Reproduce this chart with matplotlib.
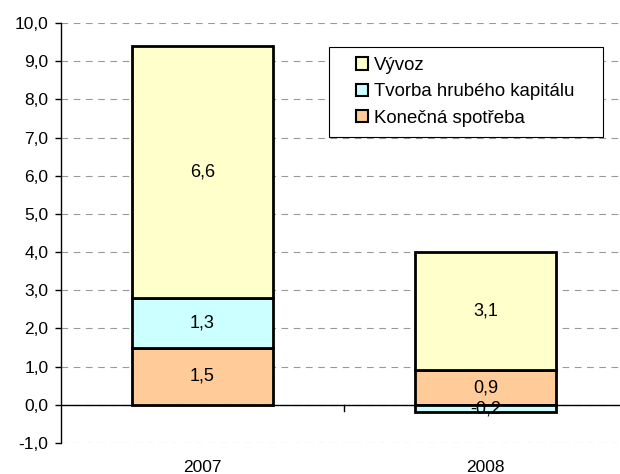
import numpy as np
import matplotlib
matplotlib.use("Agg")
import matplotlib.pyplot as plt
from matplotlib.patches import Patch, Rectangle

plt.rcParams["font.family"] = ["Liberation Sans", "DejaVu Sans"]

years = ["2007", "2008"]
series_names = ["Konečná spotřeba", "Tvorba hrubého kapitálu", "Vývoz"]
konecna = [1.5, 0.9]
tvorba = [1.3, -0.2]
vyvoz = [6.6, 3.1]
colors = ["#FFCC99", "#CCFFFF", "#FFFFCC"]
yticks = np.arange(-1, 10.5, 1)

W, H = 620, 474
fig = plt.figure(figsize=(W / 100, H / 100), dpi=100)
# plot area in pixels: y-axis at x=61, -1 at y=443, 10 at y=23
left = 61 / W
ax = fig.add_axes([left, 31 / H, 1 - left, 420 / H])
ax_w = W - 61

x = np.arange(len(years))
pos_bottom = np.zeros(len(years))
neg_bottom = np.zeros(len(years))
for name, vals, c in zip(series_names, [konecna, tvorba, vyvoz], colors):
    vals = np.array(vals)
    bottoms = np.where(vals >= 0, pos_bottom, neg_bottom)
    ax.bar(x, vals, width=0.5, bottom=bottoms, color=c, edgecolor="black",
           linewidth=2, zorder=3)
    for xi, b, v in zip(x, bottoms, vals):
        ax.text(xi, b + v / 2, f"{v:.1f}".replace(".", ","), ha="center",
                va="center", fontsize=13, zorder=4)
    pos_bottom = pos_bottom + np.where(vals >= 0, vals, 0)
    neg_bottom = neg_bottom + np.where(vals < 0, vals, 0)

ax.set_ylim(-1, 10)
# one category is 283 px wide; the axis runs past the right edge
ax.set_xlim(-0.5, -0.5 + ax_w / 283)
ax.set_yticks(yticks)
ax.set_yticklabels([f"{v:.1f}".replace(".", ",") for v in yticks], fontsize=12.5)
ax.yaxis.grid(True, linestyle=(0, (6, 5)), color="#999999", linewidth=0.8, zorder=0)
ax.tick_params(axis="y", direction="out", length=4, width=1, pad=5)

for s in ["top", "right", "bottom"]:
    ax.spines[s].set_visible(False)
ax.spines["left"].set_linewidth(1)
ax.axhline(0, color="black", linewidth=1, zorder=2)

ax.set_xticks(x)
ax.set_xticklabels(years, fontsize=12.5)
ax.tick_params(axis="x", length=0, pad=12)
# tick mark between the categories on the zero line
ax.plot([0.5, 0.5], [0, -0.15], color="black", linewidth=1, clip_on=False, zorder=2)

# legend box
ax.add_patch(Rectangle(((329 - 61) / ax_w, (443 - 137) / 420), 274 / ax_w, 90 / 420,
                       transform=ax.transAxes, facecolor="white", edgecolor="black",
                       linewidth=0.8, zorder=5))
handles = [Patch(facecolor=c, edgecolor="black", linewidth=1.5) for c in colors]
leg = ax.legend(handles[::-1], series_names[::-1], loc="center left",
                bbox_to_anchor=((356 - 61) / ax_w, (443 - 92) / 420),
                fontsize=13.4, frameon=False, borderpad=0, borderaxespad=0,
                handlelength=0.65, handleheight=0.65, handletextpad=0.3,
                labelspacing=0.5)
leg.set_zorder(6)

fig.savefig("out.png", dpi=100)
